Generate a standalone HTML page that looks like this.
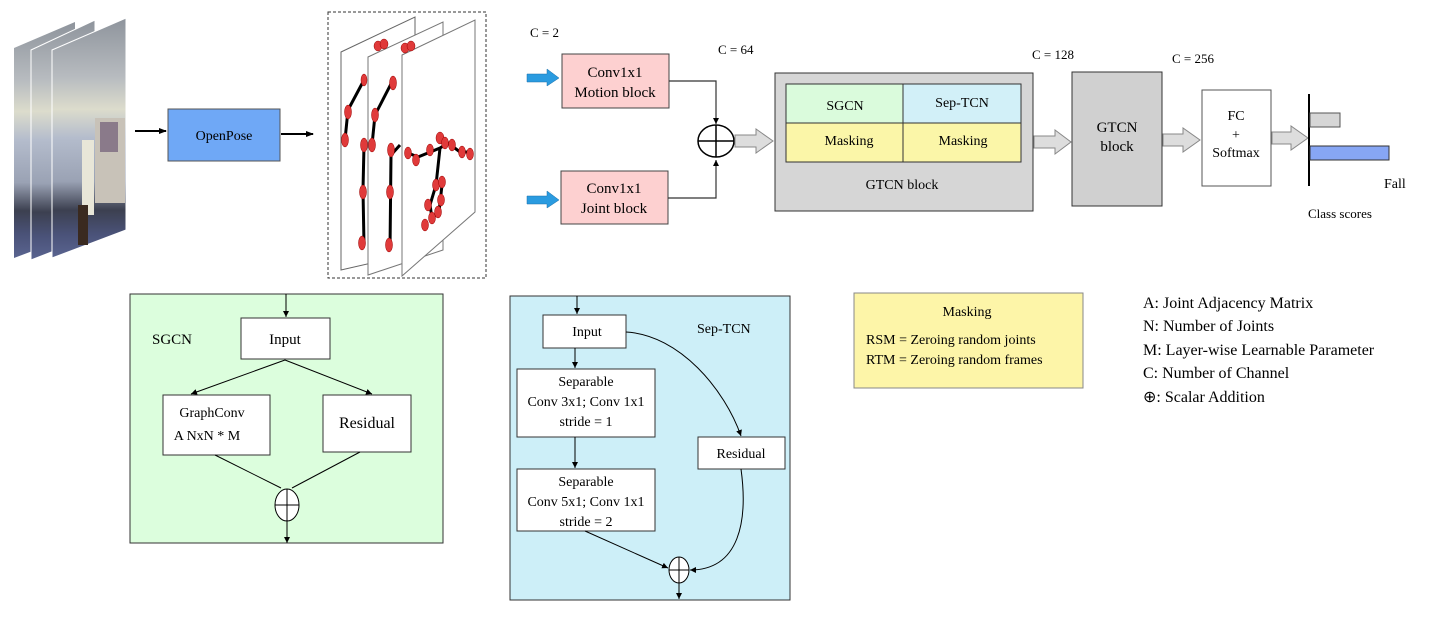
<!DOCTYPE html>
<html><head><meta charset="utf-8"><style>
html,body{margin:0;padding:0;background:#fff;}
svg{display:block;font-family:"Liberation Serif",serif;}
</style></head><body>
<svg width="1432" height="626" viewBox="0 0 1432 626" xmlns="http://www.w3.org/2000/svg">
<defs>
<marker id="ah" markerWidth="8" markerHeight="8" refX="7" refY="4" orient="auto" markerUnits="userSpaceOnUse"><path d="M0,1 L8,4 L0,7 z" fill="#000"/></marker>
<marker id="sa" markerWidth="6" markerHeight="6" refX="6" refY="3" orient="auto" markerUnits="userSpaceOnUse"><path d="M0,0 L6,3 L0,6 z" fill="#000"/></marker>
<linearGradient id="ph" x1="0" y1="0" x2="0" y2="1">
<stop offset="0" stop-color="#8e949c"/><stop offset="0.25" stop-color="#b8bcc0"/><stop offset="0.38" stop-color="#dcdccc"/><stop offset="0.5" stop-color="#b4bccc"/><stop offset="0.68" stop-color="#9aa2b4"/><stop offset="0.8" stop-color="#3c4050"/><stop offset="0.9" stop-color="#4a5278"/><stop offset="1" stop-color="#5a6490"/></linearGradient>
</defs>
<!-- photos -->
<polygon points="14,48 75,22 75,235 14,258" fill="url(#ph)"/>
<polygon points="31,50 95,20 95,235 31,260" fill="url(#ph)" stroke="#fff" stroke-width="1"/>
<polygon points="52,50 126,18 126,230 52,258" fill="url(#ph)" stroke="#fff" stroke-width="1"/>
<rect x="82" y="140" width="12" height="75" fill="#e8e6d8"/>
<rect x="95" y="118" width="30" height="85" fill="#c8c2b8"/>
<rect x="100" y="122" width="18" height="30" fill="#8a7a8a"/>
<rect x="78" y="205" width="10" height="40" fill="#3a2a20"/>
<!-- openpose -->
<line x1="135" y1="131" x2="166" y2="131" stroke="#000" stroke-width="2" marker-end="url(#ah)"/>
<rect x="168" y="109" width="112" height="52" fill="#6fa8f6" stroke="#555"/>
<text x="224" y="140" font-size="14" text-anchor="middle">OpenPose</text>
<line x1="281" y1="134" x2="313" y2="134" stroke="#000" stroke-width="2" marker-end="url(#ah)"/>
<!-- skeleton frames -->
<rect x="328" y="12" width="158" height="266" fill="none" stroke="#333" stroke-dasharray="3,2"/>
<polygon points="341,52 415,17 415,253 341,270" fill="#fff" stroke="#666"/>
<polygon points="368,57 443,22 443,250 368,275" fill="#fff" stroke="#777"/>
<polygon points="402,55 475,20 475,212 402,276" fill="#fff" stroke="#777"/>
<g stroke="#000" stroke-width="3" fill="none">
<polyline points="364,80 348,110 345,140"/><polyline points="364,145 363,190 364,245"/>
<polyline points="393,80 375,115 372,145"/><polyline points="400,145 391,155 390,250"/>
<polyline points="408,153 418,157 440,148 448,143 460,152 470,152"/>
<polyline points="440,148 436,185 430,205 432,218 439,212 442,185"/>
</g>
<g fill="#e03a3a" stroke="#900" stroke-width="0.5">
<ellipse cx="378" cy="46" rx="4" ry="5"/><ellipse cx="384" cy="44" rx="4" ry="5"/><ellipse cx="405" cy="48" rx="4" ry="5"/><ellipse cx="411" cy="46" rx="4" ry="5"/>
<ellipse cx="364" cy="80" rx="3" ry="6"/><ellipse cx="348" cy="112" rx="3.5" ry="7"/><ellipse cx="345" cy="140" rx="3.5" ry="7"/>
<ellipse cx="364" cy="145" rx="3.5" ry="7"/><ellipse cx="363" cy="192" rx="3.5" ry="7"/><ellipse cx="362" cy="243" rx="3.5" ry="7"/>
<ellipse cx="393" cy="83" rx="3.5" ry="7"/><ellipse cx="375" cy="115" rx="3.5" ry="7"/><ellipse cx="372" cy="145" rx="3.5" ry="7"/>
<ellipse cx="391" cy="150" rx="3.5" ry="7"/><ellipse cx="390" cy="192" rx="3.5" ry="7"/><ellipse cx="389" cy="245" rx="3.5" ry="7"/>
<ellipse cx="408" cy="153" rx="3.5" ry="6"/><ellipse cx="416" cy="160" rx="3.5" ry="6"/><ellipse cx="430" cy="150" rx="3.5" ry="6"/><ellipse cx="440" cy="138" rx="4" ry="6"/><ellipse cx="445" cy="143" rx="3.5" ry="6"/><ellipse cx="452" cy="145" rx="3.5" ry="6"/><ellipse cx="462" cy="152" rx="3.5" ry="6"/><ellipse cx="470" cy="154" rx="3.5" ry="6"/>
<ellipse cx="436" cy="185" rx="3.5" ry="6"/><ellipse cx="442" cy="182" rx="3.5" ry="6"/><ellipse cx="428" cy="205" rx="3.5" ry="6"/><ellipse cx="441" cy="200" rx="3.5" ry="6"/><ellipse cx="432" cy="218" rx="3.5" ry="6"/><ellipse cx="438" cy="212" rx="3.5" ry="6"/><ellipse cx="425" cy="225" rx="3.5" ry="6"/>
</g>
<text x="530" y="37" font-size="13">C = 2</text>
<!-- blue arrows -->
<polygon points="527,74 547,74 547,69 559,78 547,86 547,82 527,82" fill="#2a9be0" stroke="#1c6fa8" stroke-width="0.5"/>
<polygon points="527,196 547,196 547,191 559,200 547,208 547,204 527,204" fill="#2a9be0" stroke="#1c6fa8" stroke-width="0.5"/>
<!-- conv blocks -->
<rect x="562" y="54" width="107" height="54" fill="#fdd0d0" stroke="#444"/>
<text x="615" y="77" font-size="15" text-anchor="middle">Conv1x1</text>
<text x="615" y="97" font-size="15" text-anchor="middle">Motion block</text>
<rect x="561" y="171" width="107" height="53" fill="#fdd0d0" stroke="#444"/>
<text x="614" y="193" font-size="15" text-anchor="middle">Conv1x1</text>
<text x="614" y="213" font-size="15" text-anchor="middle">Joint block</text>
<polyline points="669,81 716,81 716,124" fill="none" stroke="#333" stroke-width="1.2" marker-end="url(#sa)"/>
<polyline points="668,198 716,198 716,160" fill="none" stroke="#333" stroke-width="1.2" marker-end="url(#sa)"/>
<ellipse cx="716" cy="141" rx="18" ry="16" fill="#fff" stroke="#000" stroke-width="1.5"/>
<line x1="698" y1="141" x2="734" y2="141" stroke="#000" stroke-width="1.5"/><line x1="716" y1="125" x2="716" y2="157" stroke="#000" stroke-width="1.5"/>
<text x="718" y="54" font-size="13">C = 64</text>
<!-- grey arrows -->
<g fill="#ddd" stroke="#888">
<polygon points="735,135 756,135 756,129 773,141 756,153 756,147 735,147"/>
<polygon points="1034,136 1055,136 1055,130 1071,142 1055,154 1055,148 1034,148"/>
<polygon points="1163,134 1183,134 1183,128 1200,140 1183,152 1183,146 1163,146"/>
<polygon points="1272,132 1291,132 1291,126 1308,138 1291,150 1291,144 1272,144"/>
</g>
<!-- GTCN block -->
<rect x="775" y="73" width="258" height="138" fill="#d6d6d6" stroke="#333"/>
<rect x="786" y="84" width="117" height="39" fill="#dafbdc" stroke="#333"/>
<rect x="903" y="84" width="118" height="39" fill="#d2f0f8" stroke="#333"/>
<rect x="786" y="123" width="117" height="39" fill="#fbf6a8" stroke="#333"/>
<rect x="903" y="123" width="118" height="39" fill="#fbf6a8" stroke="#333"/>
<text x="845" y="110" font-size="14" text-anchor="middle">SGCN</text>
<text x="962" y="107" font-size="14" text-anchor="middle">Sep-TCN</text>
<text x="849" y="145" font-size="14" text-anchor="middle">Masking</text>
<text x="963" y="145" font-size="14" text-anchor="middle">Masking</text>
<text x="902" y="189" font-size="14" text-anchor="middle">GTCN block</text>
<text x="1032" y="59" font-size="13">C = 128</text>
<rect x="1072" y="72" width="90" height="134" fill="#d0d0d0" stroke="#333"/>
<text x="1117" y="132" font-size="15" text-anchor="middle">GTCN</text>
<text x="1117" y="151" font-size="15" text-anchor="middle">block</text>
<text x="1172" y="63" font-size="13">C = 256</text>
<rect x="1202" y="90" width="69" height="96" fill="#fff" stroke="#555"/>
<text x="1236" y="120" font-size="14" text-anchor="middle">FC</text>
<text x="1236" y="139" font-size="14" text-anchor="middle">+</text>
<text x="1236" y="157" font-size="14" text-anchor="middle">Softmax</text>
<line x1="1309" y1="94" x2="1309" y2="186" stroke="#000" stroke-width="2"/>
<rect x="1310" y="113" width="30" height="14" fill="#d6d6d6" stroke="#555"/>
<rect x="1310" y="146" width="79" height="14" fill="#87a6f4" stroke="#333"/>
<text x="1384" y="188" font-size="14">Fall</text>
<text x="1308" y="218" font-size="13">Class scores</text>
<!-- SGCN panel -->
<rect x="130" y="294" width="313" height="249" fill="#dcfedd" stroke="#333"/>
<line x1="286" y1="294" x2="286" y2="317" stroke="#000" marker-end="url(#sa)"/>
<text x="152" y="344" font-size="15">SGCN</text>
<rect x="241" y="318" width="89" height="41" fill="#fff" stroke="#333"/>
<text x="285" y="344" font-size="15" text-anchor="middle">Input</text>
<line x1="285" y1="360" x2="191" y2="394" stroke="#000" marker-end="url(#sa)"/>
<line x1="285" y1="360" x2="372" y2="394" stroke="#000" marker-end="url(#sa)"/>
<rect x="163" y="395" width="107" height="60" fill="#fff" stroke="#333"/>
<text x="212" y="417" font-size="14" text-anchor="middle">GraphConv</text>
<text x="207" y="440" font-size="14" text-anchor="middle">A NxN * M</text>
<rect x="323" y="395" width="88" height="57" fill="#fff" stroke="#333"/>
<text x="367" y="428" font-size="16" text-anchor="middle">Residual</text>
<line x1="215" y1="455" x2="281" y2="488" stroke="#000"/>
<line x1="360" y1="452" x2="292" y2="488" stroke="#000"/>
<ellipse cx="287" cy="505" rx="12" ry="16" fill="#fff" stroke="#000"/>
<line x1="275" y1="505" x2="299" y2="505" stroke="#000"/><line x1="287" y1="489" x2="287" y2="521" stroke="#000"/>
<line x1="287" y1="521" x2="287" y2="543" stroke="#000" marker-end="url(#sa)"/>
<!-- Sep-TCN panel -->
<rect x="510" y="296" width="280" height="304" fill="#cdeff8" stroke="#333"/>
<line x1="577" y1="296" x2="577" y2="314" stroke="#000" marker-end="url(#sa)"/>
<text x="697" y="333" font-size="14">Sep-TCN</text>
<rect x="543" y="315" width="83" height="33" fill="#fff" stroke="#333"/>
<text x="587" y="336" font-size="14" text-anchor="middle">Input</text>
<line x1="575" y1="348" x2="575" y2="368" stroke="#000" marker-end="url(#sa)"/>
<rect x="517" y="369" width="138" height="68" fill="#fff" stroke="#333"/>
<text x="586" y="386" font-size="14" text-anchor="middle">Separable</text>
<text x="586" y="406" font-size="14" text-anchor="middle">Conv 3x1; Conv 1x1</text>
<text x="586" y="426" font-size="14" text-anchor="middle">stride = 1</text>
<line x1="575" y1="437" x2="575" y2="468" stroke="#000" marker-end="url(#sa)"/>
<rect x="517" y="469" width="138" height="62" fill="#fff" stroke="#333"/>
<text x="586" y="486" font-size="14" text-anchor="middle">Separable</text>
<text x="586" y="506" font-size="14" text-anchor="middle">Conv 5x1; Conv 1x1</text>
<text x="586" y="526" font-size="14" text-anchor="middle">stride = 2</text>
<path d="M626,332 C680,335 725,390 741,436" fill="none" stroke="#000" marker-end="url(#sa)"/>
<rect x="698" y="437" width="87" height="32" fill="#fff" stroke="#333"/>
<text x="741" y="458" font-size="14" text-anchor="middle">Residual</text>
<path d="M741,469 C748,520 740,570 690,570" fill="none" stroke="#000" marker-end="url(#sa)"/>
<line x1="585" y1="531" x2="668" y2="568" stroke="#000" marker-end="url(#sa)"/>
<ellipse cx="679" cy="570" rx="10" ry="13" fill="#fff" stroke="#000"/>
<line x1="669" y1="570" x2="689" y2="570" stroke="#000"/><line x1="679" y1="557" x2="679" y2="583" stroke="#000"/>
<line x1="679" y1="583" x2="679" y2="599" stroke="#000" marker-end="url(#sa)"/>
<!-- masking legend -->
<rect x="854" y="293" width="229" height="95" fill="#fdf5a8" stroke="#888"/>
<text x="967" y="316" font-size="14" text-anchor="middle">Masking</text>
<text x="866" y="344" font-size="14">RSM = Zeroing random joints</text>
<text x="866" y="364" font-size="14">RTM = Zeroing random frames</text>
<!-- legend -->
<g font-size="16">
<text x="1143" y="308">A: Joint Adjacency Matrix</text>
<text x="1143" y="331">N: Number of Joints</text>
<text x="1143" y="355">M: Layer-wise Learnable Parameter</text>
<text x="1143" y="378">C: Number of Channel</text>
<text x="1143" y="402">⊕: Scalar Addition</text>
</g>
</svg>
</body></html>
